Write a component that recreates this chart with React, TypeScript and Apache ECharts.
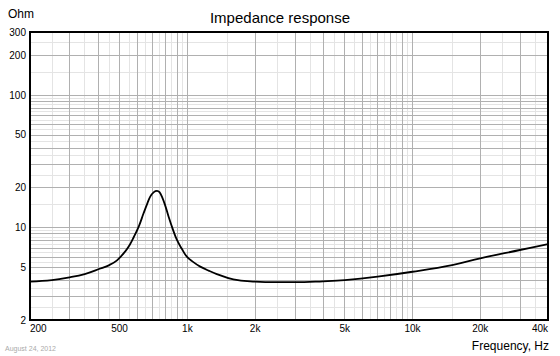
import React, { useEffect, useRef } from "react";
import * as echarts from "echarts";

// Impedance curve (Hz, Ohm)
const freq = [
  200, 250, 300, 350, 411, 450, 487, 530, 555, 577, 610, 639, 665, 684, 710, 733, 752, 771,
  797, 825, 860, 899, 945, 995, 1060, 1141, 1250, 1352, 1600, 2000, 2500, 3000, 4000, 5000,
  7000, 10000, 15000, 20000, 30000, 40000,
];
const impedance = [
  3.9, 4.0, 4.2, 4.45, 4.9, 5.2, 5.65, 6.6, 7.4, 8.4, 10.3, 12.8, 15.3, 17.1, 18.5, 18.9,
  18.5, 17.1, 14.7, 12.1, 9.8, 8.05, 6.9, 6.02, 5.5, 5.06, 4.7, 4.45, 4.05, 3.9, 3.86, 3.86,
  3.92, 4.0, 4.25, 4.63, 5.2, 5.85, 6.76, 7.5,
];

// Tick labels
const xTickValues = [200, 500, 1000, 2000, 5000, 10000, 20000, 40000];
const xTickLabels = ["200", "500", "1k", "2k", "5k", "10k", "20k", "40k"];
const yTickValues = [2, 5, 10, 20, 50, 100, 200, 300];

// Grid lines
const xMajorGrid = [
  300, 400, 500, 600, 700, 800, 900, 1000, 2000, 3000, 4000, 5000, 6000, 7000, 8000, 9000,
  10000, 20000, 30000,
];
const xMinorGrid = [
  250, 350, 450, 550, 650, 750, 850, 950, 1500, 2500, 3500, 4500, 5500, 6500, 7500, 8500,
  9500, 15000, 25000, 35000,
];
const yMajorGrid = [3, 4, 5, 6, 7, 8, 9, 10, 20, 30, 40, 50, 60, 70, 80, 90, 100, 200];
const yMinorGrid = [
  2.5, 3.5, 4.5, 5.5, 6.5, 7.5, 8.5, 9.5, 15, 25, 35, 45, 55, 65, 75, 85, 95, 150, 250,
];

const FONT = "'Liberation Sans', Arial, Helvetica, sans-serif";

export default function App() {
  const ref = useRef<HTMLDivElement>(null);

  useEffect(() => {
    if (!ref.current) return;
    const chart = echarts.init(ref.current, undefined, { renderer: "svg" });

    const majorStyle = { color: "#b0b0b0", width: 1, type: "solid" as const };
    const minorStyle = { color: "#e4e4e4", width: 1, type: "solid" as const };

    chart.setOption({
      animation: false,
      backgroundColor: "#ffffff",
      textStyle: { fontFamily: FONT },
      title: [
        {
          text: "Impedance response",
          left: "center",
          top: 10,
          padding: 0,
          textStyle: { fontSize: 15, fontWeight: "normal", color: "#000", fontFamily: FONT },
        },
        {
          text: "Ohm",
          left: 8,
          top: 8,
          padding: 0,
          textStyle: { fontSize: 12, fontWeight: "normal", color: "#000", fontFamily: FONT },
        },
        {
          text: "Frequency, Hz",
          right: 11,
          bottom: 4,
          padding: 0,
          textStyle: { fontSize: 12, fontWeight: "normal", color: "#000", fontFamily: FONT },
        },
        {
          text: "August 24, 2012",
          left: 5,
          bottom: 4,
          padding: 0,
          textStyle: { fontSize: 7, fontWeight: "normal", color: "#aaaaaa", fontFamily: FONT },
        },
      ],
      grid: {
        left: 30,
        right: 12,
        top: 32,
        bottom: 36,
        show: true,
        borderColor: "#000",
        borderWidth: 2,
        backgroundColor: "transparent",
        z: 10,
      },
      xAxis: {
        type: "log",
        logBase: 10,
        min: 200,
        max: 40000,
        axisLine: { show: false },
        axisTick: { show: false },
        axisLabel: { show: false },
        splitLine: { show: false },
      },
      yAxis: {
        type: "log",
        logBase: 10,
        min: 2,
        max: 300,
        axisLine: { show: false },
        axisTick: { show: false },
        axisLabel: { show: false },
        splitLine: { show: false },
      },
      series: [
        {
          name: "minorGrid",
          type: "line",
          data: [],
          silent: true,
          z: 1,
          markLine: {
            silent: true,
            symbol: "none",
            label: { show: false },
            lineStyle: minorStyle,
            data: [
              ...xMinorGrid.map((v) => ({ xAxis: v })),
              ...yMinorGrid.map((v) => ({ yAxis: v })),
            ],
          },
        },
        {
          name: "majorGrid",
          type: "line",
          data: [],
          silent: true,
          z: 2,
          markLine: {
            silent: true,
            symbol: "none",
            label: { show: false },
            lineStyle: majorStyle,
            data: [
              ...xMajorGrid.map((v) => ({ xAxis: v })),
              ...yMajorGrid.map((v) => ({ yAxis: v })),
            ],
          },
        },
        {
          name: "ticks",
          type: "line",
          data: [],
          silent: true,
          z: 3,
          markLine: {
            silent: true,
            symbol: "none",
            lineStyle: { color: "transparent", width: 0 },
            label: {
              show: true,
              position: "start",
              color: "#000",
              fontSize: 10,
              fontFamily: FONT,
            },
            data: [
              ...xTickValues.map((v, i) => ({
                xAxis: v,
                name: xTickLabels[i],
                label: {
                  formatter: "{b}",
                  distance: 3,
                  align: i === 0 ? "left" : i === xTickValues.length - 1 ? "right" : "center",
                },
              })),
              ...yTickValues.map((v) => ({
                yAxis: v,
                name: String(v),
                label: { formatter: "{b}", distance: 4 },
              })),
            ],
          },
        },
        {
          name: "Impedance",
          type: "line",
          data: freq.map((f, i) => [f, impedance[i]]),
          showSymbol: false,
          symbol: "none",
          smooth: 0.4,
          z: 5,
          lineStyle: { color: "#000", width: 1.8 },
        },
      ],
    });

    return () => chart.dispose();
  }, []);

  return (
    <div
      ref={ref}
      style={{ position: "absolute", left: 0, top: 0, width: 560, height: 356 }}
    />
  );
}
